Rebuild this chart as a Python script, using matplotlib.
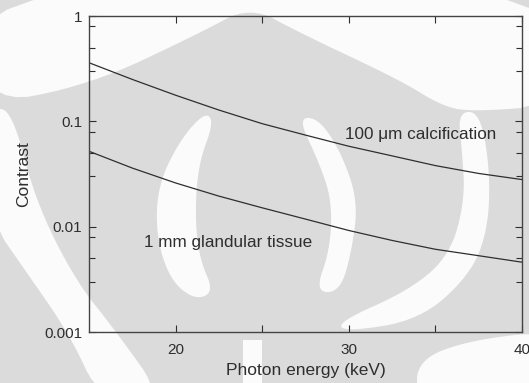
import numpy as np
import matplotlib
matplotlib.use("Agg")
import matplotlib.pyplot as plt
from matplotlib.patches import Polygon
from matplotlib.ticker import LogLocator, NullFormatter, FixedLocator

plt.rcParams['font.family'] = ['Liberation Sans', 'DejaVu Sans']

# photon energy (keV) and contrast of the two objects
energy = [15, 17.5, 20, 22.5, 25, 27.5, 30, 32.5, 35, 37.5, 40]
calcification = [0.36, 0.25, 0.177, 0.128, 0.095, 0.074, 0.058, 0.047, 0.038, 0.032, 0.028]
glandular = [0.052, 0.036, 0.026, 0.0195, 0.0151, 0.0118, 0.0092, 0.0074, 0.0061, 0.0053, 0.0046]

W, H = 529, 383
fig = plt.figure(figsize=(W / 100, H / 100), dpi=100)
fig.patch.set_facecolor('#dbdbdb')


def chaikin(pts, n=3):
    p = np.asarray(pts, float)
    for _ in range(n):
        q = np.roll(p, -1, axis=0)
        p = np.column_stack([0.75 * p + 0.25 * q, 0.25 * p + 0.75 * q]).reshape(-1, 2)
    return p


# pale bands behind the plot (pixel coords from the top-left corner)
def band(pts, smooth=True):
    p = chaikin(pts) if smooth else np.asarray(pts, float)
    xy = np.column_stack([p[:, 0] / W, 1 - p[:, 1] / H])
    fig.add_artist(Polygon(xy, closed=True, transform=fig.transFigure,
                           facecolor='#fbfbfb', edgecolor='none', zorder=-10))


band([(-20, -20), (560, -20), (560, 105), (470, 112), (440, 105), (400, 80),
      (300, 33), (250, 6), (200, 33), (90, 85), (-20, 106)])
band([(-10, 108), (12, 110), (35, 200), (75, 280), (115, 330), (165, 400),
      (100, 400), (70, 335), (25, 270), (-10, 220)])
band([(205, 112), (214, 122), (198, 165), (195, 220), (200, 260), (214, 292),
      (195, 300), (170, 280), (156, 235), (158, 185), (180, 140)])
band([(298, 118), (318, 118), (340, 150), (358, 200), (352, 250), (340, 292),
      (315, 292), (330, 250), (332, 200), (318, 160)])
band([(458, 112), (480, 112), (490, 170), (488, 230), (470, 275), (420, 320),
      (345, 332), (338, 322), (410, 290), (450, 255), (465, 200), (462, 150)])
band([(417, 360), (470, 340), (560, 330), (560, 400), (417, 400)])
band([(243, 340), (262, 340), (262, 400), (243, 400)], smooth=False)

ax = fig.add_axes([89 / W, 1 - 332 / H, (522 - 89) / W, (332 - 16) / H])
ax.set_facecolor('none')

ink = '#2e2e2e'
ax.plot(energy, calcification, color=ink, lw=0.9)
ax.plot(energy, glandular, color=ink, lw=0.9)

ax.set_yscale('log')
ax.set_xlim(15, 40)
ax.set_ylim(0.001, 1)

ax.xaxis.set_major_locator(FixedLocator([20, 30, 40]))
ax.xaxis.set_minor_locator(FixedLocator([25, 35]))
ax.yaxis.set_major_locator(LogLocator(base=10))
ax.yaxis.set_minor_locator(LogLocator(base=10, subs=(3.0, 5.0, 8.0)))
ax.yaxis.set_minor_formatter(NullFormatter())
ax.set_yticks([0.001, 0.01, 0.1, 1])
ax.set_yticklabels(['0.001', '0.01', '0.1', '1'])

ax.tick_params(which='both', direction='in', top=True, right=True,
               colors=ink, labelsize=11, width=0.8, pad=5)
ax.tick_params(axis='x', which='both', pad=8)
ax.tick_params(which='major', length=5)
ax.tick_params(which='minor', length=4)
ax.tick_params(axis='x', which='minor', length=5)
for s in ax.spines.values():
    s.set_color('#444444')
    s.set_linewidth(1.0)

ax.set_xlabel('Photon energy (keV)', fontsize=12.5, color=ink, labelpad=4)
ax.set_ylabel('Contrast', fontsize=12.5, color=ink, labelpad=9)

ax.text(29.8, 0.075, '100 μm calcification', fontsize=12.3, color=ink, va='center')
ax.text(18.2, 0.007, '1 mm glandular tissue', fontsize=12.3, color=ink, va='center')

fig.savefig('out.png', dpi=100, facecolor=fig.get_facecolor())
